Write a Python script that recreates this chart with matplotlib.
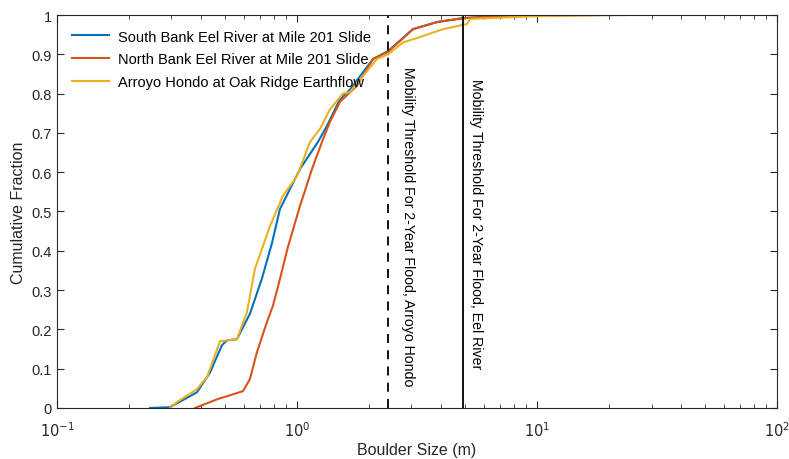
import matplotlib.pyplot as plt

plt.rcParams['font.family'] = ['Liberation Sans', 'DejaVu Sans']

# boulder size (m) and cumulative fraction
south_size = [0.244, 0.296, 0.383, 0.434, 0.487, 0.511, 0.562, 0.637, 0.715, 0.787,
              0.849, 1.029, 1.223, 1.334, 1.511, 1.663, 2.074, 2.394, 3.042, 3.831,
              4.917, 7.72]
south_frac = [0.0, 0.002, 0.04, 0.09, 0.16, 0.172, 0.175, 0.24, 0.33, 0.42,
              0.506, 0.608, 0.677, 0.718, 0.786, 0.81, 0.888, 0.908, 0.964, 0.982,
              0.992, 1.0]

north_size = [0.376, 0.469, 0.511, 0.596, 0.637, 0.681, 0.75, 0.794, 0.849, 0.917,
              1.029, 1.155, 1.271, 1.372, 1.511, 1.778, 2.074, 2.394, 3.042, 3.831,
              4.917, 7.72, 23.9]
north_frac = [0.0, 0.023, 0.03, 0.043, 0.074, 0.142, 0.219, 0.26, 0.328, 0.41,
              0.514, 0.608, 0.677, 0.728, 0.779, 0.82, 0.888, 0.906, 0.964, 0.982,
              0.992, 0.998, 1.0]

arroyo_size = [0.296, 0.316, 0.383, 0.422, 0.478, 0.562, 0.619, 0.656, 0.668, 0.772,
               0.874, 1.0, 1.133, 1.247, 1.372, 1.555, 1.663, 2.154, 2.394, 2.765,
               3.254, 4.056, 5.11, 5.26, 10.0, 18.3]
arroyo_frac = [0.0, 0.015, 0.048, 0.079, 0.17, 0.175, 0.244, 0.328, 0.354, 0.463,
               0.54, 0.59, 0.677, 0.71, 0.76, 0.80, 0.804, 0.888, 0.9, 0.93,
               0.944, 0.964, 0.977, 0.99, 0.997, 1.0]

thresh_arroyo = 2.39
thresh_eel = 4.9

fig = plt.figure(figsize=(7.89, 4.6), dpi=100)
ax = fig.add_axes([0.0722, 0.1109, 0.9126, 0.8543])

ax.plot(south_size, south_frac, color='#0072BD', lw=1.5, label='South Bank Eel River at Mile 201 Slide')
ax.plot(north_size, north_frac, color='#D95319', lw=1.5, label='North Bank Eel River at Mile 201 Slide')
ax.plot(arroyo_size, arroyo_frac, color='#EDB120', lw=1.5, label='Arroyo Hondo at Oak Ridge Earthflow')

ax.axvline(thresh_arroyo, color='black', lw=1.3, dashes=(5, 4))
ax.axvline(thresh_eel, color='black', lw=1.3)

ax.text(2.9, 0.87, 'Mobility Threshold For 2-Year Flood, Arroyo Hondo',
        rotation=-90, ha='center', va='top', fontsize=10.2)
ax.text(5.57, 0.84, 'Mobility Threshold For 2-Year Flood, Eel River',
        rotation=-90, ha='center', va='top', fontsize=10.2)

ax.set_xscale('log')
ax.set_xlim(0.1, 100)
ax.set_ylim(0, 1)
ax.set_yticks([i / 10 for i in range(11)])
ax.set_yticklabels(['0', '0.1', '0.2', '0.3', '0.4', '0.5', '0.6', '0.7', '0.8', '0.9', '1'])
ax.set_xticks([0.1, 1, 10, 100])
ax.set_xticklabels([r'$10^{-1}$', r'$10^{0}$', r'$10^{1}$', r'$10^{2}$'])

ax.tick_params(which='both', direction='in', top=True, right=True, colors='#262626', labelsize=10.5)
ax.tick_params(which='major', length=5)
ax.tick_params(which='minor', length=3)
ax.tick_params(axis='x', which='major', pad=9)
for s in ax.spines.values():
    s.set_color('#262626')
    s.set_linewidth(0.8)

ax.set_xlabel('Boulder Size (m)', fontsize=11.5, color='#262626', labelpad=2)
ax.set_ylabel('Cumulative Fraction', fontsize=11.5, color='#262626')

ax.legend(loc='upper left', frameon=False, fontsize=10.5, handlelength=2.6,
          handletextpad=0.6, bbox_to_anchor=(0.0, 1.0), borderaxespad=0.6,
          labelspacing=0.6)

fig.savefig('out.png', dpi=100)
